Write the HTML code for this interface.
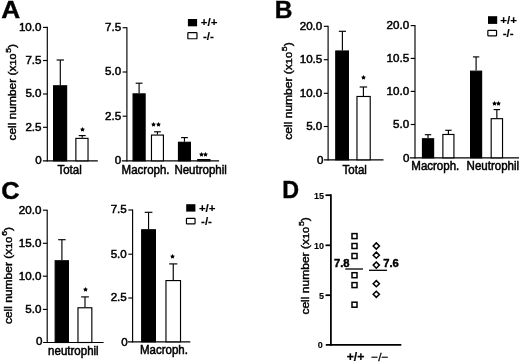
<!DOCTYPE html>
<html><head><meta charset="utf-8"><title>Figure</title>
<style>
html,body{margin:0;padding:0;background:#fff;}
body{width:520px;height:363px;overflow:hidden;font-family:"Liberation Sans", sans-serif;}
svg{display:block;font-family:"Liberation Sans", sans-serif;filter:grayscale(1) blur(0.4px);}
text{fill:#000;}
</style></head><body>
<svg width="520" height="363" viewBox="0 0 520 363">
<rect x="0" y="0" width="520" height="363" fill="#fff"/>
<text transform="translate(1.3,17.6) scale(1.07,1)" font-size="24.5" font-weight="bold" stroke="#000" stroke-width="0.4">A</text>
<text transform="translate(274.7,18.3) scale(1.0,1)" font-size="24.5" font-weight="bold" stroke="#000" stroke-width="0.4">B</text>
<text transform="translate(1.3,199.0) scale(1.04,1)" font-size="24.5" font-weight="bold" stroke="#000" stroke-width="0.4">C</text>
<text transform="translate(282.3,198.0) scale(0.95,1)" font-size="24.5" font-weight="bold" stroke="#000" stroke-width="0.4">D</text>
<line x1="47.3" y1="26.825" x2="47.3" y2="161.375" stroke="#000" stroke-width="1.15"/>
<line x1="42.9" y1="160.8" x2="97.8" y2="160.8" stroke="#000" stroke-width="1.15"/>
<line x1="43.0" y1="27.4" x2="47.3" y2="27.4" stroke="#000" stroke-width="1.15"/>
<text x="41.5" y="30.776" font-size="11.6" text-anchor="end" font-weight="normal" stroke="#000" stroke-width="0.5" >10.0</text>
<line x1="43.0" y1="60.5" x2="47.3" y2="60.5" stroke="#000" stroke-width="1.15"/>
<text x="41.5" y="63.876000000000005" font-size="11.6" text-anchor="end" font-weight="normal" stroke="#000" stroke-width="0.5" >7.5</text>
<line x1="43.0" y1="94" x2="47.3" y2="94" stroke="#000" stroke-width="1.15"/>
<text x="41.5" y="97.376" font-size="11.6" text-anchor="end" font-weight="normal" stroke="#000" stroke-width="0.5" >5.0</text>
<line x1="43.0" y1="127.3" x2="47.3" y2="127.3" stroke="#000" stroke-width="1.15"/>
<text x="41.5" y="130.676" font-size="11.6" text-anchor="end" font-weight="normal" stroke="#000" stroke-width="0.5" >2.5</text>
<text x="41.6" y="164.476" font-size="11.6" text-anchor="end" font-weight="normal" stroke="#000" stroke-width="0.5" >0</text>
<line x1="60.3" y1="60" x2="60.3" y2="85.2" stroke="#000" stroke-width="1.15"/>
<line x1="56.608" y1="60" x2="63.992" y2="60" stroke="#000" stroke-width="1.15"/>
<rect x="53.58" y="85.78" width="13.05" height="75.03" rx="0" fill="#000" stroke="#000" stroke-width="1.15"/>
<line x1="82.2" y1="135.6" x2="82.2" y2="137.8" stroke="#000" stroke-width="1.15"/>
<line x1="78.742" y1="135.6" x2="85.658" y2="135.6" stroke="#000" stroke-width="1.15"/>
<rect x="75.88" y="138.38" width="12.15" height="22.43" rx="0" fill="#fff" stroke="#000" stroke-width="1.15"/>
<polygon points="82.50,127.00 83.31,128.39 84.88,128.73 83.81,129.92 83.97,131.52 82.50,130.88 81.03,131.52 81.19,129.92 80.12,128.73 81.69,128.39" fill="#000"/>
<text transform="translate(69.6,174.2) scale(0.96,1)" font-size="12.0" text-anchor="middle" font-weight="normal" stroke="#000" stroke-width="0.5" >Total</text>
<text transform="translate(16.2,140.5) rotate(-90)" font-size="10.4" text-anchor="start" textLength="96.6" lengthAdjust="spacingAndGlyphs" stroke="#000" stroke-width="0.4">cell number (x<tspan font-size="9.36">10</tspan><tspan font-size="7.49" dx="0.8" dy="-4.9">5</tspan><tspan dy="4.9">)</tspan></text>
<line x1="126.9" y1="27.125" x2="126.9" y2="161.375" stroke="#000" stroke-width="1.15"/>
<line x1="121.8" y1="160.8" x2="219.1" y2="160.8" stroke="#000" stroke-width="1.15"/>
<line x1="122.60000000000001" y1="27.7" x2="126.9" y2="27.7" stroke="#000" stroke-width="1.15"/>
<text x="121.10000000000001" y="31.075999999999997" font-size="11.6" text-anchor="end" font-weight="normal" stroke="#000" stroke-width="0.5" >7.5</text>
<line x1="122.60000000000001" y1="72" x2="126.9" y2="72" stroke="#000" stroke-width="1.15"/>
<text x="121.10000000000001" y="75.376" font-size="11.6" text-anchor="end" font-weight="normal" stroke="#000" stroke-width="0.5" >5.0</text>
<line x1="122.60000000000001" y1="116.2" x2="126.9" y2="116.2" stroke="#000" stroke-width="1.15"/>
<text x="121.10000000000001" y="119.57600000000001" font-size="11.6" text-anchor="end" font-weight="normal" stroke="#000" stroke-width="0.5" >2.5</text>
<text x="121.3" y="164.076" font-size="11.6" text-anchor="end" font-weight="normal" stroke="#000" stroke-width="0.5" >0</text>
<line x1="139.1" y1="83.2" x2="139.1" y2="93.3" stroke="#000" stroke-width="1.15"/>
<line x1="135.668" y1="83.2" x2="142.53199999999998" y2="83.2" stroke="#000" stroke-width="1.15"/>
<rect x="133.07" y="93.88" width="12.05" height="66.93" rx="0" fill="#000" stroke="#000" stroke-width="1.15"/>
<line x1="157.45" y1="131.8" x2="157.45" y2="134.5" stroke="#000" stroke-width="1.15"/>
<line x1="154.04399999999998" y1="131.8" x2="160.856" y2="131.8" stroke="#000" stroke-width="1.15"/>
<rect x="151.47" y="135.07" width="11.95" height="25.73" rx="0" fill="#fff" stroke="#000" stroke-width="1.15"/>
<line x1="184.45" y1="137.6" x2="184.45" y2="141.7" stroke="#000" stroke-width="1.15"/>
<line x1="181.04399999999998" y1="137.6" x2="187.856" y2="137.6" stroke="#000" stroke-width="1.15"/>
<rect x="178.47" y="142.27" width="11.95" height="18.53" rx="0" fill="#000" stroke="#000" stroke-width="1.15"/>
<rect x="197.77" y="159.57" width="12.15" height="1.23" rx="0" fill="#fff" stroke="#000" stroke-width="1.15"/>
<polygon points="153.50,122.00 154.31,123.39 155.88,123.73 154.81,124.92 154.97,126.52 153.50,125.88 152.03,126.52 152.19,124.92 151.12,123.73 152.69,123.39" fill="#000"/>
<polygon points="158.50,122.00 159.31,123.39 160.88,123.73 159.81,124.92 159.97,126.52 158.50,125.88 157.03,126.52 157.19,124.92 156.12,123.73 157.69,123.39" fill="#000"/>
<polygon points="201.50,152.00 202.31,153.39 203.88,153.73 202.81,154.92 202.97,156.52 201.50,155.88 200.03,156.52 200.19,154.92 199.12,153.73 200.69,153.39" fill="#000"/>
<polygon points="205.50,152.00 206.31,153.39 207.88,153.73 206.81,154.92 206.97,156.52 205.50,155.88 204.03,156.52 204.19,154.92 203.12,153.73 204.69,153.39" fill="#000"/>
<text transform="translate(121.6,174.1) scale(0.96,1)" font-size="12.0" text-anchor="start" font-weight="normal" stroke="#000" stroke-width="0.5" >Macroph.</text>
<text transform="translate(174.4,174.1) scale(0.96,1)" font-size="12.0" text-anchor="start" font-weight="normal" stroke="#000" stroke-width="0.5" >Neutrophil</text>
<rect x="187.90" y="19.00" width="9.20" height="7.30" rx="0" fill="#000" stroke="#000" stroke-width="0"/>
<rect x="187.85" y="32.65" width="9.10" height="6.10" rx="0.6" fill="#fff" stroke="#000" stroke-width="1.2"/>
<text x="200.8" y="26.400000000000002" font-size="11.5" text-anchor="start" font-weight="bold" stroke="#000" stroke-width="0.15" >+/+</text>
<text x="203" y="39.5" font-size="11.5" text-anchor="start" font-weight="bold" stroke="#000" stroke-width="0.15" >-/-</text>
<line x1="328.1" y1="25.725" x2="328.1" y2="160.375" stroke="#000" stroke-width="1.15"/>
<line x1="324" y1="159.8" x2="383.5" y2="159.8" stroke="#000" stroke-width="1.15"/>
<line x1="323.8" y1="26.3" x2="328.1" y2="26.3" stroke="#000" stroke-width="1.15"/>
<text x="322.3" y="29.676" font-size="11.6" text-anchor="end" font-weight="normal" stroke="#000" stroke-width="0.5" >20.0</text>
<line x1="323.8" y1="59.7" x2="328.1" y2="59.7" stroke="#000" stroke-width="1.15"/>
<text x="322.3" y="63.07600000000001" font-size="11.6" text-anchor="end" font-weight="normal" stroke="#000" stroke-width="0.5" >10.5</text>
<line x1="323.8" y1="93.3" x2="328.1" y2="93.3" stroke="#000" stroke-width="1.15"/>
<text x="322.3" y="96.676" font-size="11.6" text-anchor="end" font-weight="normal" stroke="#000" stroke-width="0.5" >10.0</text>
<line x1="323.8" y1="126.5" x2="328.1" y2="126.5" stroke="#000" stroke-width="1.15"/>
<text x="322.3" y="129.87599999999998" font-size="11.6" text-anchor="end" font-weight="normal" stroke="#000" stroke-width="0.5" >5.0</text>
<text x="323.4" y="163.77599999999998" font-size="11.6" text-anchor="end" font-weight="normal" stroke="#000" stroke-width="0.5" >0</text>
<line x1="342.4" y1="31.3" x2="342.4" y2="50.4" stroke="#000" stroke-width="1.15"/>
<line x1="338.81199999999995" y1="31.3" x2="345.988" y2="31.3" stroke="#000" stroke-width="1.15"/>
<rect x="335.77" y="50.98" width="12.65" height="108.83" rx="0" fill="#000" stroke="#000" stroke-width="1.15"/>
<line x1="363.4" y1="87" x2="363.4" y2="95.9" stroke="#000" stroke-width="1.15"/>
<line x1="359.65599999999995" y1="87" x2="367.144" y2="87" stroke="#000" stroke-width="1.15"/>
<rect x="356.97" y="96.48" width="13.25" height="63.33" rx="0" fill="#fff" stroke="#000" stroke-width="1.15"/>
<polygon points="363.50,75.00 364.31,76.39 365.88,76.73 364.81,77.92 364.97,79.52 363.50,78.88 362.03,79.52 362.19,77.92 361.12,76.73 362.69,76.39" fill="#000"/>
<text transform="translate(354.7,174) scale(0.96,1)" font-size="12.0" text-anchor="middle" font-weight="normal" stroke="#000" stroke-width="0.5" >Total</text>
<text transform="translate(292.0,139.7) rotate(-90)" font-size="10.4" text-anchor="start" textLength="97.4" lengthAdjust="spacingAndGlyphs" stroke="#000" stroke-width="0.4">cell number (x<tspan font-size="9.36">10</tspan><tspan font-size="7.49" dx="0.8" dy="-4.9">5</tspan><tspan dy="4.9">)</tspan></text>
<line x1="415.0" y1="25.025000000000002" x2="415.0" y2="158.375" stroke="#000" stroke-width="1.15"/>
<line x1="410" y1="157.8" x2="519" y2="157.8" stroke="#000" stroke-width="1.15"/>
<line x1="410.7" y1="25.6" x2="415.0" y2="25.6" stroke="#000" stroke-width="1.15"/>
<text x="409.2" y="28.976000000000003" font-size="11.6" text-anchor="end" font-weight="normal" stroke="#000" stroke-width="0.5" >20.0</text>
<line x1="410.7" y1="58.4" x2="415.0" y2="58.4" stroke="#000" stroke-width="1.15"/>
<text x="409.2" y="61.776" font-size="11.6" text-anchor="end" font-weight="normal" stroke="#000" stroke-width="0.5" >10.5</text>
<line x1="410.7" y1="91.4" x2="415.0" y2="91.4" stroke="#000" stroke-width="1.15"/>
<text x="409.2" y="94.77600000000001" font-size="11.6" text-anchor="end" font-weight="normal" stroke="#000" stroke-width="0.5" >10.0</text>
<line x1="410.7" y1="124.5" x2="415.0" y2="124.5" stroke="#000" stroke-width="1.15"/>
<text x="409.2" y="127.87599999999999" font-size="11.6" text-anchor="end" font-weight="normal" stroke="#000" stroke-width="0.5" >5.0</text>
<text x="409.5" y="162.076" font-size="11.6" text-anchor="end" font-weight="normal" stroke="#000" stroke-width="0.5" >0</text>
<line x1="428.04999999999995" y1="134.7" x2="428.04999999999995" y2="138.2" stroke="#000" stroke-width="1.15"/>
<line x1="424.852" y1="134.7" x2="431.24799999999993" y2="134.7" stroke="#000" stroke-width="1.15"/>
<rect x="422.47" y="138.77" width="11.15" height="19.03" rx="0" fill="#000" stroke="#000" stroke-width="1.15"/>
<line x1="448.4" y1="130.3" x2="448.4" y2="133.9" stroke="#000" stroke-width="1.15"/>
<line x1="445.22799999999995" y1="130.3" x2="451.572" y2="130.3" stroke="#000" stroke-width="1.15"/>
<rect x="442.88" y="134.47" width="11.05" height="23.33" rx="0" fill="#fff" stroke="#000" stroke-width="1.15"/>
<line x1="476.1" y1="56.9" x2="476.1" y2="70.6" stroke="#000" stroke-width="1.15"/>
<line x1="472.928" y1="56.9" x2="479.27200000000005" y2="56.9" stroke="#000" stroke-width="1.15"/>
<rect x="470.57" y="71.17" width="11.05" height="86.63" rx="0" fill="#000" stroke="#000" stroke-width="1.15"/>
<line x1="496.85" y1="109.6" x2="496.85" y2="118.1" stroke="#000" stroke-width="1.15"/>
<line x1="493.6" y1="109.6" x2="500.1" y2="109.6" stroke="#000" stroke-width="1.15"/>
<rect x="491.18" y="118.67" width="11.35" height="39.13" rx="0" fill="#fff" stroke="#000" stroke-width="1.15"/>
<polygon points="494.50,101.00 495.31,102.39 496.88,102.73 495.81,103.92 495.97,105.52 494.50,104.88 493.03,105.52 493.19,103.92 492.12,102.73 493.69,102.39" fill="#000"/>
<polygon points="498.50,101.00 499.31,102.39 500.88,102.73 499.81,103.92 499.97,105.52 498.50,104.88 497.03,105.52 497.19,103.92 496.12,102.73 497.69,102.39" fill="#000"/>
<text transform="translate(411.3,169.9) scale(0.96,1)" font-size="12.0" text-anchor="start" font-weight="normal" stroke="#000" stroke-width="0.5" >Macroph.</text>
<text transform="translate(466.6,169.9) scale(0.96,1)" font-size="12.0" text-anchor="start" font-weight="normal" stroke="#000" stroke-width="0.5" >Neutrophil</text>
<rect x="488.00" y="16.20" width="9.20" height="7.70" rx="0" fill="#000" stroke="#000" stroke-width="0"/>
<rect x="487.85" y="30.35" width="8.70" height="5.60" rx="0.6" fill="#fff" stroke="#000" stroke-width="1.2"/>
<text x="500.3" y="24.0" font-size="11.5" text-anchor="start" font-weight="bold" stroke="#000" stroke-width="0.15" >+/+</text>
<text x="502.7" y="36.7" font-size="11.5" text-anchor="start" font-weight="bold" stroke="#000" stroke-width="0.15" >-/-</text>
<line x1="47.2" y1="209.625" x2="47.2" y2="343.075" stroke="#000" stroke-width="1.15"/>
<line x1="43.1" y1="342.5" x2="103.6" y2="342.5" stroke="#000" stroke-width="1.15"/>
<line x1="42.900000000000006" y1="210.2" x2="47.2" y2="210.2" stroke="#000" stroke-width="1.15"/>
<text x="41.400000000000006" y="213.57599999999996" font-size="11.6" text-anchor="end" font-weight="normal" stroke="#000" stroke-width="0.5" >20.0</text>
<line x1="42.900000000000006" y1="243.3" x2="47.2" y2="243.3" stroke="#000" stroke-width="1.15"/>
<text x="41.400000000000006" y="246.676" font-size="11.6" text-anchor="end" font-weight="normal" stroke="#000" stroke-width="0.5" >15.0</text>
<line x1="42.900000000000006" y1="276.2" x2="47.2" y2="276.2" stroke="#000" stroke-width="1.15"/>
<text x="41.400000000000006" y="279.57599999999996" font-size="11.6" text-anchor="end" font-weight="normal" stroke="#000" stroke-width="0.5" >10.0</text>
<line x1="42.900000000000006" y1="309.4" x2="47.2" y2="309.4" stroke="#000" stroke-width="1.15"/>
<text x="41.400000000000006" y="312.77599999999995" font-size="11.6" text-anchor="end" font-weight="normal" stroke="#000" stroke-width="0.5" >5.0</text>
<text x="42.5" y="345.476" font-size="11.6" text-anchor="end" font-weight="normal" stroke="#000" stroke-width="0.5" >0</text>
<line x1="61.9" y1="239.7" x2="61.9" y2="260.2" stroke="#000" stroke-width="1.15"/>
<line x1="58.156" y1="239.7" x2="65.644" y2="239.7" stroke="#000" stroke-width="1.15"/>
<rect x="55.18" y="260.77" width="13.25" height="81.73" rx="0" fill="#000" stroke="#000" stroke-width="1.15"/>
<line x1="85" y1="296.9" x2="85" y2="307.2" stroke="#000" stroke-width="1.15"/>
<line x1="81.1" y1="296.9" x2="88.9" y2="296.9" stroke="#000" stroke-width="1.15"/>
<rect x="77.98" y="307.77" width="13.85" height="34.73" rx="0" fill="#fff" stroke="#000" stroke-width="1.15"/>
<polygon points="85.50,287.00 86.31,288.39 87.88,288.73 86.81,289.92 86.97,291.52 85.50,290.88 84.03,291.52 84.19,289.92 83.12,288.73 84.69,288.39" fill="#000"/>
<text transform="translate(48.1,354.9) scale(0.96,1)" font-size="12.0" text-anchor="start" font-weight="normal" stroke="#000" stroke-width="0.5" >neutrophil</text>
<text transform="translate(12.2,324.1) rotate(-90)" font-size="10.4" text-anchor="start" textLength="97.2" lengthAdjust="spacingAndGlyphs" stroke="#000" stroke-width="0.4">cell number (x<tspan font-size="9.36">10</tspan><tspan font-size="7.49" dx="0.8" dy="-4.9">6</tspan><tspan dy="4.9">)</tspan></text>
<line x1="132.6" y1="209.425" x2="132.6" y2="342.375" stroke="#000" stroke-width="1.15"/>
<line x1="128" y1="341.8" x2="190.3" y2="341.8" stroke="#000" stroke-width="1.15"/>
<line x1="128.29999999999998" y1="210" x2="132.6" y2="210" stroke="#000" stroke-width="1.15"/>
<text x="126.79999999999998" y="213.37599999999998" font-size="11.6" text-anchor="end" font-weight="normal" stroke="#000" stroke-width="0.5" >7.5</text>
<line x1="128.29999999999998" y1="254.2" x2="132.6" y2="254.2" stroke="#000" stroke-width="1.15"/>
<text x="126.79999999999998" y="257.57599999999996" font-size="11.6" text-anchor="end" font-weight="normal" stroke="#000" stroke-width="0.5" >5.0</text>
<line x1="128.29999999999998" y1="298" x2="132.6" y2="298" stroke="#000" stroke-width="1.15"/>
<text x="126.79999999999998" y="301.376" font-size="11.6" text-anchor="end" font-weight="normal" stroke="#000" stroke-width="0.5" >2.5</text>
<text x="127.7" y="345.876" font-size="11.6" text-anchor="end" font-weight="normal" stroke="#000" stroke-width="0.5" >0</text>
<line x1="148.55" y1="212.3" x2="148.55" y2="229.2" stroke="#000" stroke-width="1.15"/>
<line x1="144.67600000000002" y1="212.3" x2="152.424" y2="212.3" stroke="#000" stroke-width="1.15"/>
<rect x="141.67" y="229.77" width="13.75" height="112.03" rx="0" fill="#000" stroke="#000" stroke-width="1.15"/>
<line x1="173.25" y1="263.9" x2="173.25" y2="280" stroke="#000" stroke-width="1.15"/>
<line x1="169.168" y1="263.9" x2="177.332" y2="263.9" stroke="#000" stroke-width="1.15"/>
<rect x="165.97" y="280.57" width="14.55" height="61.23" rx="0" fill="#fff" stroke="#000" stroke-width="1.15"/>
<polygon points="172.50,254.00 173.31,255.39 174.88,255.73 173.81,256.92 173.97,258.52 172.50,257.88 171.03,258.52 171.19,256.92 170.12,255.73 171.69,255.39" fill="#000"/>
<text transform="translate(140,353.8) scale(0.96,1)" font-size="12.0" text-anchor="start" font-weight="normal" stroke="#000" stroke-width="0.5" >Macroph.</text>
<rect x="186.20" y="204.20" width="9.20" height="7.40" rx="0" fill="#000" stroke="#000" stroke-width="0"/>
<rect x="186.45" y="218.35" width="8.60" height="5.60" rx="0.6" fill="#fff" stroke="#000" stroke-width="1.2"/>
<text x="198.9" y="211.7" font-size="11.5" text-anchor="start" font-weight="bold" stroke="#000" stroke-width="0.15" >+/+</text>
<text x="201.1" y="224.7" font-size="11.5" text-anchor="start" font-weight="bold" stroke="#000" stroke-width="0.15" >-/-</text>
<line x1="330.9" y1="194.325" x2="330.9" y2="345.675" stroke="#000" stroke-width="1.75"/>
<line x1="325.8" y1="344.8" x2="401.3" y2="344.8" stroke="#000" stroke-width="1.75"/>
<line x1="325.5" y1="195.2" x2="330.9" y2="195.2" stroke="#000" stroke-width="1.75"/>
<text x="323.9" y="198.94" font-size="9" text-anchor="end" font-weight="bold" stroke="#000" stroke-width="0.1" >15</text>
<line x1="325.5" y1="245.3" x2="330.9" y2="245.3" stroke="#000" stroke-width="1.75"/>
<text x="323.9" y="249.04000000000002" font-size="9" text-anchor="end" font-weight="bold" stroke="#000" stroke-width="0.1" >10</text>
<line x1="325.5" y1="295.2" x2="330.9" y2="295.2" stroke="#000" stroke-width="1.75"/>
<text x="323.9" y="298.94" font-size="9" text-anchor="end" font-weight="bold" stroke="#000" stroke-width="0.1" >5</text>
<text x="322.7" y="348.24" font-size="9" text-anchor="end" font-weight="bold" stroke="#000" stroke-width="0.1" >0</text>
<rect x="352.0" y="233.6" width="5" height="5" fill="#fff" stroke="#000" stroke-width="1.5"/>
<rect x="352.0" y="243.5" width="5" height="5" fill="#fff" stroke="#000" stroke-width="1.5"/>
<rect x="352.0" y="253.5" width="5" height="5" fill="#fff" stroke="#000" stroke-width="1.5"/>
<rect x="352.0" y="272.7" width="5" height="5" fill="#fff" stroke="#000" stroke-width="1.5"/>
<rect x="352.0" y="282.6" width="5" height="5" fill="#fff" stroke="#000" stroke-width="1.5"/>
<rect x="352.0" y="302.2" width="5" height="5" fill="#fff" stroke="#000" stroke-width="1.5"/>
<path d="M373.2 246L376.3 242.9L379.40000000000003 246L376.3 249.1Z" fill="#fff" stroke="#000" stroke-width="1.5"/>
<path d="M373.2 255.2L376.3 252.1L379.40000000000003 255.2L376.3 258.3Z" fill="#fff" stroke="#000" stroke-width="1.5"/>
<path d="M373.2 265.1L376.3 262.0L379.40000000000003 265.1L376.3 268.20000000000005Z" fill="#fff" stroke="#000" stroke-width="1.5"/>
<path d="M373.2 283.7L376.3 280.59999999999997L379.40000000000003 283.7L376.3 286.8Z" fill="#fff" stroke="#000" stroke-width="1.5"/>
<path d="M373.2 294.3L376.3 291.2L379.40000000000003 294.3L376.3 297.40000000000003Z" fill="#fff" stroke="#000" stroke-width="1.5"/>
<line x1="345.3" y1="269" x2="363" y2="269" stroke="#000" stroke-width="1.3"/>
<line x1="369" y1="270.3" x2="387" y2="270.3" stroke="#000" stroke-width="1.3"/>
<text x="334.0" y="267.2" font-size="11.2" text-anchor="start" font-weight="bold" stroke="#000" stroke-width="0.45" >7.8</text>
<text x="383.2" y="267.2" font-size="11.2" text-anchor="start" font-weight="bold" stroke="#000" stroke-width="0.45" >7.6</text>
<text x="346.7" y="361.3" font-size="12.3" text-anchor="start" font-weight="bold" stroke="#000" stroke-width="0.2" >+/+</text>
<text x="371.3" y="361.3" font-size="11.8" text-anchor="start" font-weight="normal" stroke="#000" stroke-width="0.3" >−/−</text>
<text transform="translate(308.5,314.6) rotate(-90)" font-size="10.4" text-anchor="start" textLength="97.4" lengthAdjust="spacingAndGlyphs" stroke="#000" stroke-width="0.4">cell number (x<tspan font-size="9.36">10</tspan><tspan font-size="7.49" dx="0.8" dy="-4.9">5</tspan><tspan dy="4.9">)</tspan></text>
</svg>
</body></html>
